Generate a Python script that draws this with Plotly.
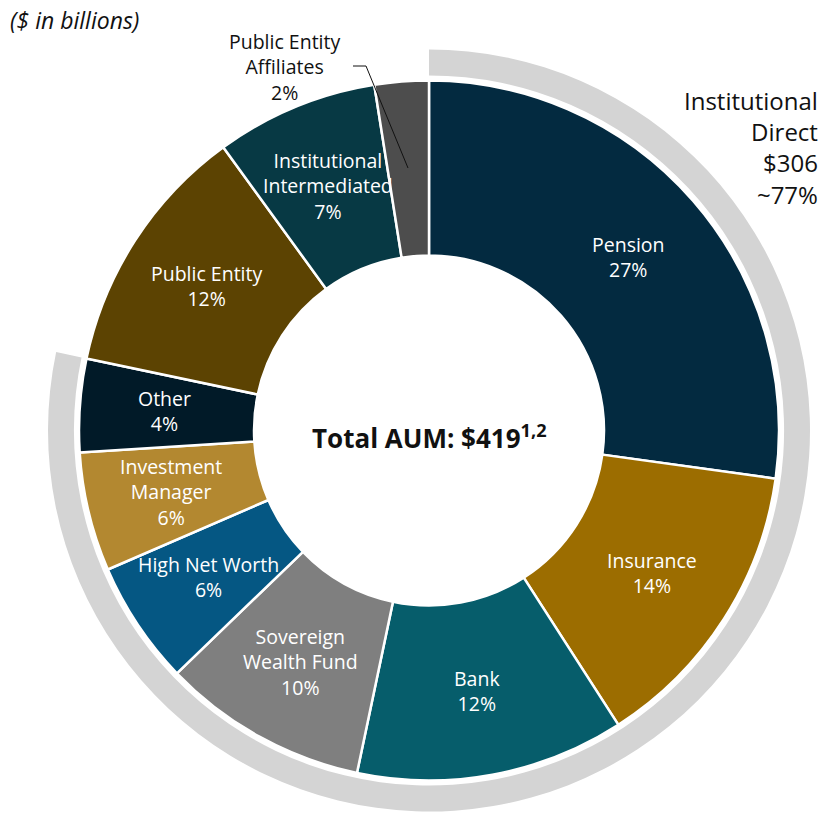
import math
import plotly.graph_objects as go

# ---- data ----
categories = ["Pension", "Insurance", "Bank", "Sovereign Wealth Fund", "High Net Worth",
              "Investment Manager", "Other", "Public Entity", "Institutional Intermediated",
              "Public Entity Affiliates"]
label_lines = ["Pension", "Insurance", "Bank", "Sovereign<br>Wealth Fund", "High Net Worth",
               "Investment<br>Manager", "Other", "Public Entity", "Institutional<br>Intermediated",
               "Public Entity<br>Affiliates"]
shares = [27.2, 13.7, 12.4, 9.5, 5.7, 5.5, 4.3, 11.7, 7.5, 2.5]
pct_labels = ["27%", "14%", "12%", "10%", "6%", "6%", "4%", "12%", "7%", "2%"]
colors = ["#032A40", "#9C6D00", "#065D6B", "#7F7F7F", "#055783",
          "#B38830", "#011A28", "#5C4302", "#073944", "#4D4D4D"]
direct_count = 7  # first seven categories form "Institutional Direct"
direct_label = "Institutional<br>Direct<br>$306<br>~77%"
total_label = "Total AUM: $419<sup>1,2</sup>"
unit_label = "($ in billions)"

W, H = 821, 813
CX, CY = 429, 430.5
R_OUT, HOLE = 350, 0.5
ARC_R, ARC_HOLE = 381, 0.932

FONT = "Open Sans"


def px2x(px):
    return px / W


def py2y(py):
    return 1 - py / H


def dom(cx, cy, r):
    return dict(x=[px2x(cx - r), px2x(cx + r)],
                y=[py2y(cy + r), py2y(cy - r)])


fig = go.Figure()

direct_sum = sum(shares[:direct_count])
rest_sum = sum(shares[direct_count:])
fig.add_trace(go.Pie(
    values=[direct_sum, rest_sum],
    labels=["Institutional Direct", "rest"],
    marker=dict(colors=["#D4D4D4", "rgba(0,0,0,0)"], line=dict(width=0)),
    hole=ARC_HOLE, sort=False, direction="clockwise", rotation=0,
    textinfo="none", hoverinfo="skip", showlegend=False,
    domain=dom(CX, CY, ARC_R),
))

fig.add_trace(go.Pie(
    values=shares, labels=categories,
    marker=dict(colors=colors, line=dict(color="white", width=2.5)),
    hole=HOLE, sort=False, direction="clockwise", rotation=0,
    textinfo="none", showlegend=False,
    domain=dom(CX, CY, R_OUT),
))

annotations = []
total = sum(shares)
cum = 0
RR = 265
for i, (v, lab, pct) in enumerate(zip(shares, label_lines, pct_labels)):
    mid = (cum + v / 2) / total * 2 * math.pi
    cum += v
    if i == len(shares) - 1:
        continue
    px = CX + RR * math.sin(mid)
    py = CY - RR * math.cos(mid)
    annotations.append(dict(
        x=px2x(px), y=py2y(py), xref="paper", yref="paper",
        xanchor="center", yanchor="middle",
        text=f"{lab}<br>{pct}", showarrow=False,
        font=dict(family=FONT, size=19.5, color="white"), align="center",
    ))

# outside label for the small slice
annotations.append(dict(
    x=px2x(284), y=py2y(67), xref="paper", yref="paper",
    xanchor="center", yanchor="middle",
    text=f"{label_lines[-1]}<br>{pct_labels[-1]}", showarrow=False,
    font=dict(family=FONT, size=19.5, color="#111111"), align="center",
))
annotations.append(dict(
    x=px2x(820), y=py2y(148), xref="paper", yref="paper",
    xanchor="right", yanchor="middle",
    text=direct_label, showarrow=False,
    font=dict(family=FONT, size=24, color="#111111"), align="right",
))
annotations.append(dict(
    x=px2x(CX), y=py2y(437), xref="paper", yref="paper",
    xanchor="center", yanchor="middle",
    text=f"<b>{total_label}</b>", showarrow=False,
    font=dict(family=FONT, size=26, color="#111111"),
))
annotations.append(dict(
    x=px2x(8), y=py2y(20), xref="paper", yref="paper",
    xanchor="left", yanchor="middle",
    text=f"<i>{unit_label}</i>", showarrow=False,
    font=dict(family=FONT, size=23, color="#111111"),
))

fig.update_layout(
    width=W, height=H,
    margin=dict(l=0, r=0, t=0, b=0),
    paper_bgcolor="white", plot_bgcolor="white",
    annotations=annotations,
    shapes=[dict(type="path", xref="paper", yref="paper",
                 path=(f"M {px2x(353)} {py2y(66)} L {px2x(366)} {py2y(66)} "
                       f"L {px2x(408)} {py2y(168)}"),
                 line=dict(color="#111111", width=1))],
)

fig.write_html(
    "out.html",
    config={"displayModeBar": False},
    post_script="document.body.style.margin='0';document.body.style.overflow='hidden';",
)
